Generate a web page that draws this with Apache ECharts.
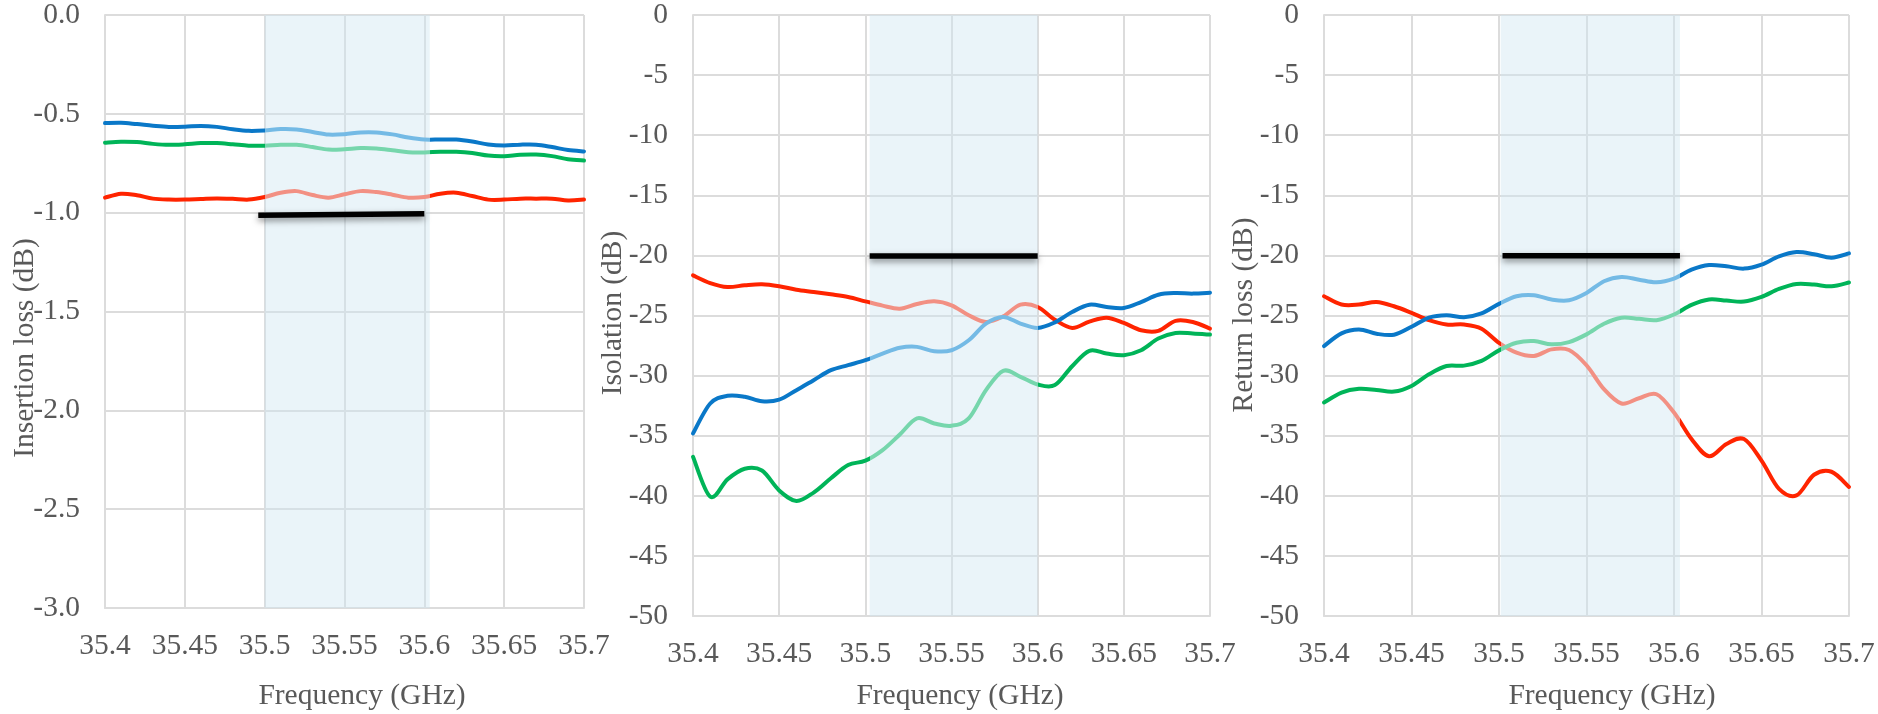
<!DOCTYPE html>
<html><head><meta charset="utf-8">
<script src="https://cdn.jsdelivr.net/npm/echarts@6/dist/echarts.min.js"></script>
<style>html,body{margin:0;padding:0;background:#fff}#c{width:1878px;height:714px}</style>
</head><body><div id="c"></div>
<script>
// ---- data ----
const freq = [35.40,35.41,35.42,35.43,35.44,35.45,35.46,35.47,35.48,35.49,35.50,35.51,35.52,35.53,35.54,35.55,35.56,35.57,35.58,35.59,35.60,35.61,35.62,35.63,35.64,35.65,35.66,35.67,35.68,35.69,35.70];

const ilBlue  = [-0.547,-0.545,-0.552,-0.560,-0.566,-0.565,-0.561,-0.566,-0.578,-0.586,-0.584,-0.577,-0.579,-0.592,-0.605,-0.603,-0.594,-0.594,-0.604,-0.620,-0.630,-0.630,-0.630,-0.640,-0.655,-0.660,-0.656,-0.656,-0.668,-0.683,-0.690];
const ilGreen = [-0.646,-0.641,-0.643,-0.652,-0.657,-0.654,-0.648,-0.648,-0.654,-0.661,-0.661,-0.657,-0.657,-0.668,-0.681,-0.679,-0.673,-0.675,-0.684,-0.694,-0.695,-0.692,-0.692,-0.698,-0.711,-0.714,-0.707,-0.706,-0.714,-0.730,-0.736];
const ilRed   = [-0.924,-0.904,-0.912,-0.929,-0.934,-0.934,-0.931,-0.928,-0.930,-0.934,-0.921,-0.899,-0.891,-0.911,-0.924,-0.907,-0.891,-0.896,-0.909,-0.924,-0.921,-0.904,-0.899,-0.916,-0.934,-0.934,-0.929,-0.929,-0.929,-0.938,-0.934];

const isoRed   = [-21.66,-22.30,-22.63,-22.49,-22.41,-22.57,-22.85,-23.04,-23.24,-23.46,-23.82,-24.18,-24.43,-24.04,-23.82,-24.15,-24.98,-25.54,-25.07,-24.10,-24.29,-25.35,-26.03,-25.51,-25.18,-25.62,-26.23,-26.28,-25.45,-25.54,-26.09];
const isoBlue  = [-34.81,-32.32,-31.68,-31.76,-32.13,-32.00,-31.21,-30.38,-29.55,-29.13,-28.72,-28.17,-27.69,-27.61,-27.97,-27.89,-27.06,-25.67,-25.12,-25.67,-26.03,-25.57,-24.71,-24.10,-24.29,-24.37,-23.88,-23.27,-23.13,-23.18,-23.10];
const isoGreen = [-36.75,-40.07,-38.63,-37.75,-37.90,-39.55,-40.43,-39.73,-38.54,-37.44,-37.08,-36.20,-34.90,-33.56,-33.98,-34.17,-33.56,-31.21,-29.60,-30.10,-30.74,-30.79,-29.22,-27.94,-28.17,-28.30,-27.89,-26.92,-26.45,-26.50,-26.59];

const rlBlue  = [-27.54,-26.49,-26.16,-26.52,-26.60,-25.94,-25.17,-24.97,-25.14,-24.83,-24.03,-23.40,-23.31,-23.67,-23.73,-23.12,-22.15,-21.80,-22.02,-22.24,-21.93,-21.19,-20.80,-20.91,-21.10,-20.77,-20.08,-19.72,-19.90,-20.19,-19.83];
const rlRed   = [-23.40,-24.09,-24.09,-23.87,-24.23,-24.78,-25.39,-25.75,-25.75,-26.10,-27.27,-28.09,-28.37,-27.82,-27.87,-29.14,-31.13,-32.32,-31.88,-31.55,-33.07,-35.28,-36.71,-35.69,-35.28,-37.07,-39.42,-39.97,-38.25,-38.00,-39.26];
const rlGreen = [-32.24,-31.41,-31.10,-31.19,-31.33,-30.86,-29.89,-29.20,-29.17,-28.78,-27.90,-27.27,-27.13,-27.40,-27.21,-26.57,-25.69,-25.19,-25.28,-25.39,-24.92,-24.12,-23.67,-23.76,-23.84,-23.45,-22.79,-22.38,-22.43,-22.57,-22.25];

// passband (shaded) per panel: [start, end] GHz
const bandIL  = [35.5, 35.6034];
const bandISO = [35.5025, 35.6];
const bandRL  = [35.501, 35.6034];
// spec lines per panel: [[x1,y1],[x2,y2]]
const specIL  = [[35.496, -1.013], [35.600, -1.005]];
const specISO = [[35.5025, -20.06], [35.600, -20.06]];
const specRL  = [[35.502, -20.03], [35.6034, -20.03]];

const xTitle = 'Frequency (GHz)';
const yTitles = ['Insertion loss (dB)', 'Isolation (dB)', 'Return loss (dB)'];

// ---- styles ----
const FONT = 'Liberation Serif';
const FS = 29.5;
const TXT = '#595959';
const GRID = '#dcdcdc';
const COLORS = {
  blue:  ['#0A78C8', '#74BAE5'],
  green: ['#00B458', '#76D6AC'],
  red:   ['#FF2400', '#F29083']
};
const X0 = 35.4, X1 = 35.7;

const grids = [
  {left: 105, top: 14, width: 479, height: 594},
  {left: 693, top: 15, width: 517, height: 601},
  {left: 1324, top: 15, width: 525, height: 601}
];

function xAx(i) {
  return {
    type: 'value', gridIndex: i, min: X0, max: X1, interval: 0.05,
    axisLine: {show: true, onZero: false, lineStyle: {color: GRID, width: 2}},
    axisTick: {show: false},
    splitLine: {show: true, lineStyle: {color: GRID, width: 2}},
    axisLabel: {fontFamily: FONT, fontSize: FS, color: TXT, margin: 23, showMinLabel: true, showMaxLabel: true,
      formatter: v => String(+v.toFixed(2))}
  };
}
function yAx(i, min, interval, dec) {
  return {
    type: 'value', gridIndex: i, min: min, max: 0, interval: interval,
    axisLine: {show: true, onZero: false, lineStyle: {color: GRID, width: 2}},
    axisTick: {show: false},
    splitLine: {show: true, lineStyle: {color: GRID, width: 2}},
    axisLabel: {fontFamily: FONT, fontSize: FS, color: TXT, margin: 25, showMinLabel: true, showMaxLabel: true,
      formatter: v => dec ? v.toFixed(dec) : String(Math.round(v))}
  };
}

const T = 1 / 6; // Catmull-Rom tension
const series = [];
function curve(g, vals, col, band) {
  series.push({
    type: 'custom', coordinateSystem: 'cartesian2d', xAxisIndex: g, yAxisIndex: g,
    data: freq.map((f, k) => [f, vals[k]]), encode: {x: 0, y: 1}, z: 3, silent: true,
    renderItem: function (params, api) {
      if (params.dataIndex !== 0) return null;
      const p = freq.map((f, k) => api.coord([f, vals[k]]));
      const n = p.length;
      let d = 'M' + p[0][0] + ' ' + p[0][1];
      for (let i = 0; i < n - 1; i++) {
        const a = p[Math.max(i - 1, 0)], b = p[i], c = p[i + 1], e = p[Math.min(i + 2, n - 1)];
        d += ' C' + (b[0] + (c[0] - a[0]) * T) + ' ' + (b[1] + (c[1] - a[1]) * T) + ' ' +
             (c[0] - (e[0] - b[0]) * T) + ' ' + (c[1] - (e[1] - b[1]) * T) + ' ' + c[0] + ' ' + c[1];
      }
      const xa = api.coord([X0, 0])[0], xb = api.coord([X1, 0])[0];
      const o0 = (api.coord([band[0], 0])[0] - xa) / (xb - xa);
      const o1 = (api.coord([band[1], 0])[0] - xa) / (xb - xa);
      const dark = COLORS[col][0], light = COLORS[col][1];
      const grad = new echarts.graphic.LinearGradient(xa, 0, xb, 0, [
        {offset: 0, color: dark}, {offset: o0, color: dark},
        {offset: o0, color: light}, {offset: o1, color: light},
        {offset: o1, color: dark}, {offset: 1, color: dark}
      ], true);
      return {type: 'path', shape: {pathData: d},
        style: {fill: 'none', stroke: grad, lineWidth: 4, lineJoin: 'round', lineCap: 'round'}};
    }
  });
}
function spec(g, pts, band, yTop, yBot) {
  series.push({
    type: 'line', xAxisIndex: g, yAxisIndex: g, symbol: 'none', data: pts, z: 4, silent: true,
    lineStyle: {color: '#000', width: 5.5, cap: 'butt', shadowColor: 'rgba(0,0,0,0.45)', shadowBlur: 6, shadowOffsetY: 3},
    markArea: {silent: true, itemStyle: {color: 'rgba(205,228,240,0.42)'},
      data: [[{coord: [band[0], yTop]}, {coord: [band[1], yBot]}]]}
  });
}

curve(0, ilRed, 'red', bandIL);
curve(0, ilGreen, 'green', bandIL);
curve(0, ilBlue, 'blue', bandIL);
spec(0, specIL, bandIL, 0.01, -3.02);
curve(1, isoRed, 'red', bandISO);
curve(1, isoGreen, 'green', bandISO);
curve(1, isoBlue, 'blue', bandISO);
spec(1, specISO, bandISO, 0.2, -50.3);
curve(2, rlRed, 'red', bandRL);
curve(2, rlGreen, 'green', bandRL);
curve(2, rlBlue, 'blue', bandRL);
spec(2, specRL, bandRL, 0.2, -50.3);

function txt(text, x, y, rot) {
  return {type: 'text', x: x, y: y, rotation: rot || 0, z: 10,
    style: {text: text, align: 'center', verticalAlign: 'middle', fontFamily: FONT, fontSize: FS, fill: TXT}};
}

const chart = echarts.init(document.getElementById('c'), null, {renderer: 'canvas'});
chart.setOption({
  animation: false,
  backgroundColor: '#ffffff',
  grid: grids,
  xAxis: [xAx(0), xAx(1), xAx(2)],
  yAxis: [yAx(0, -3, 0.5, 1), yAx(1, -50, 5, 0), yAx(2, -50, 5, 0)],
  series: series,
  graphic: [
    txt(xTitle, 362, 696), txt(xTitle, 960, 696), txt(xTitle, 1612, 696),
    txt(yTitles[0], 25, 348, Math.PI / 2),
    txt(yTitles[1], 613, 313, Math.PI / 2),
    txt(yTitles[2], 1244, 315, Math.PI / 2)
  ]
});
</script></body></html>
